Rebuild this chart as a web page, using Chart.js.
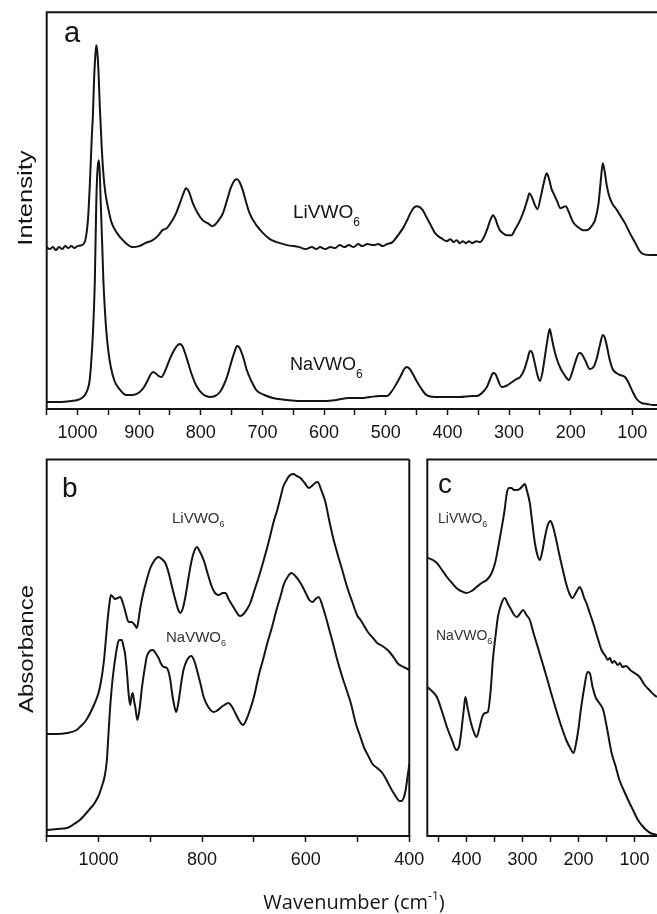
<!DOCTYPE html>
<html>
<head>
<meta charset="utf-8">
<title>LiVWO6 / NaVWO6 spectra</title>
<script src="https://cdn.jsdelivr.net/npm/chart.js@4.4.0/dist/chart.umd.min.js"></script>
<style>
    html, body { margin: 0; padding: 0; background: #fff; }
    body { width: 657px; height: 914px; position: relative; overflow: hidden; }
    canvas { position: absolute; }
    #chartA { left: 0; top: 0; }
    #chartB { left: 0; top: 440px; }
    #chartC { left: 400px; top: 440px; }
</style>
</head>
<body>
<canvas id="chartA" width="657" height="455"></canvas>
<canvas id="chartB" width="470" height="474"></canvas>
<canvas id="chartC" width="257" height="474"></canvas>
<script>
/* -------------------------------------------------
    DATA:
    Wavenumbers (cm-1) and intensities (arbitrary units)
    one x and one y list per curve.
------------------------------------------------- */

// Panel a - Raman
const ramanLiX = [
    1050, 1045, 1040, 1035, 1030, 1025, 1020, 1015, 1010, 1005, 1000, 993,
    987, 983, 980, 977, 975, 973, 971, 969.5, 968, 966, 964, 961, 958, 955, 950, 945, 937, 925, 911,
    900, 890, 878, 870, 862, 855, 846, 840, 834, 828, 824, 819, 813, 805, 797, 789, 781, 772, 764, 757,
    751, 745, 741, 737, 732, 727, 721, 710, 699, 688, 677, 660,
    640, 630, 620, 612, 607, 598, 590, 582, 575, 567, 560, 552, 545, 538, 530, 520, 512, 505, 498,
    489, 480, 472, 466, 460, 455, 450, 445, 440, 434, 427, 420, 410,
    401, 395, 390, 385, 380, 375, 370, 365, 360, 353, 347,
    340, 336, 331, 326, 322, 318, 315, 310, 304, 296, 290, 282,
    275, 270, 267, 263, 258, 254, 248, 243, 239, 235, 231, 228, 222, 217, 212, 208, 203, 196, 188, 180,
    174, 166, 160, 155, 151, 148, 145, 141, 137, 132, 126, 120, 112, 104, 95, 88, 82, 70, 60
];
const ramanLiY = [
    162, 160, 162, 159, 162, 160, 163, 161, 163, 161, 163, 164,
    170, 190, 225, 270, 295, 332, 355, 364, 358, 338, 305, 265, 235, 217, 200, 187, 177, 168, 162,
    163, 166, 169, 173, 179, 181, 189, 196, 206, 216, 221, 217, 206, 196, 189, 186, 183, 188, 196, 210,
    222, 229, 230, 227, 219, 208, 196, 184, 176, 170, 167, 164,
    162, 160, 162, 160, 162, 160, 162, 161, 164, 162, 164, 162, 165, 163, 165, 164, 165, 163, 165,
    167, 174, 181, 188, 196, 201, 203, 202, 199, 192, 184, 176, 171,
    168, 170, 167, 169, 166, 168, 166, 168, 166, 168, 167,
    173, 179, 188, 194, 190, 183, 179, 176, 174, 174, 180, 189,
    200, 210, 216, 212, 204, 200, 214, 228, 236, 230, 220, 216, 208, 201, 202, 203, 197, 187, 182, 179,
    179, 183, 190, 205, 230, 246, 238, 222, 212, 205, 200, 194, 186, 176, 166, 158, 155, 154, 154
];
const ramanNaX = [
    1050, 1030, 1010, 1000, 993, 988, 984, 980.5, 978, 975,
    972, 969.5, 967.5, 965.5, 964, 962.5, 960, 958, 955.5, 953,
    950, 946, 940, 932, 921, 910, 899, 892, 886, 881,
    877, 872, 868, 864, 858, 851, 845, 839, 834, 830,
    825, 820, 815, 807, 797, 786, 777, 769, 762, 756,
    751, 746, 741, 737, 733, 729, 726, 718, 710, 697,
    683, 660, 640, 620, 600, 580, 560, 540, 526, 510,
    498, 490, 482, 475, 470, 466, 461, 456, 450, 442,
    434, 420, 401, 380, 360, 352, 344, 336, 330, 326,
    322, 318, 312, 305, 295, 288, 282, 275, 270, 266,
    263, 258, 254, 250, 246, 242, 238, 234, 231, 227,
    222, 216, 210, 203, 197, 192, 186, 182, 176, 169,
    163, 158, 153, 148, 145, 141, 137, 132, 126, 120,
    112, 106, 100, 93, 85, 76, 66, 60
];
const ramanNaY = [
    7, 7, 8, 9, 11, 14, 19, 28, 45, 76,
    126, 209, 240, 249, 238, 209, 165, 128, 98, 76,
    58, 42, 28, 20, 14, 14, 17, 22, 29, 35,
    37, 35, 33, 32, 38, 49, 57, 63, 65, 63,
    55, 45, 35, 23, 15, 12, 13, 17, 25, 35,
    46, 56, 63, 61, 55, 47, 40, 28, 19, 14,
    11, 9, 8, 8, 8, 9, 11, 11, 12, 13,
    13, 18, 26, 34, 40, 42, 40, 35, 28, 20,
    14, 12, 12, 12, 13, 13, 16, 22, 31, 36,
    35, 29, 22, 23, 27, 30, 32, 40, 50, 58,
    57, 45, 34, 28, 36, 52, 68, 80, 72, 60,
    49, 40, 34, 29, 38, 48, 56, 55, 48, 40,
    42, 50, 63, 74, 72, 62, 50, 40, 36, 34,
    32, 26, 18, 10, 6, 5, 4, 4
];

// Panel b - mid infrared
const irLiX = [
    1100, 1080, 1061, 1042, 1036, 1025, 1016, 1008, 1000, 995,
    990, 986, 983, 979, 976, 972, 968, 963, 958, 953,
    949, 945, 942, 936, 930, 926, 923, 920, 914, 907,
    900, 894, 888, 884, 878, 871, 864, 858, 850, 846,
    842, 837, 832, 826, 820, 815, 810, 805, 797, 789,
    781, 775, 768, 760, 755, 749, 742, 735, 730, 726,
    720, 713, 707, 700, 690, 681, 670, 662, 655, 648,
    643, 639, 632, 624, 617, 610, 602, 594, 588, 582,
    577, 570, 562, 554, 546, 538, 530, 520, 510, 500,
    494, 480, 470, 462, 452, 442, 435, 428, 423, 415,
    407, 400
];
const irLiY = [
    102, 102, 103, 106, 109, 115, 123, 132, 143, 155,
    173, 195, 213, 232, 241, 239, 237, 238, 239, 233,
    226, 218, 214, 214, 211, 208, 215, 226, 242, 256,
    268, 274, 278, 279, 277, 273, 262, 249, 233, 226,
    223, 228, 240, 259, 276, 285, 289, 285, 276, 262,
    249, 243, 241, 243, 243, 237, 231, 225, 221, 220,
    222, 227, 233, 244, 260, 276, 297, 314, 326, 340,
    350, 354, 360, 362, 360, 358, 353, 348, 350, 353,
    354, 346, 334, 314, 296, 281, 267, 249, 234, 220,
    216, 204, 198, 193, 190, 186, 182, 177, 173, 170,
    168, 166
];
const irNaX = [
    1100, 1080, 1061, 1050, 1036, 1025, 1015, 1010, 1000, 994,
    988, 984, 981, 978, 975, 971, 967, 963, 960, 955,
    952, 949, 945, 942, 939, 936, 934, 931, 929, 925,
    920, 916, 910, 907, 901, 895, 890, 884, 879, 874,
    868, 862, 858, 854, 850, 845, 840, 836, 829, 821,
    815, 810, 803, 797, 788, 778, 772, 765, 757, 749,
    742, 736, 728, 721, 714, 707, 700, 690, 682, 674,
    665, 657, 649, 642, 635, 628, 620, 610, 600, 593,
    587, 581, 575, 567, 558, 548, 539, 530, 521, 513,
    503, 495, 487, 479, 471, 462, 452, 444, 436, 429,
    423, 419, 415, 411, 407, 404, 401, 400
];
const irNaY = [
    6, 7, 8, 11, 16, 22, 28, 31, 40, 49,
    60, 75, 100, 125, 145, 165, 180, 192, 196, 196,
    190, 183, 163, 143, 131, 140, 143, 134, 129, 116,
    130, 149, 170, 179, 185, 186, 183, 178, 172, 169,
    168, 158, 143, 131, 124, 136, 154, 166, 176, 180,
    175, 166, 152, 139, 129, 124, 125, 128, 131, 133,
    129, 123, 115, 111, 117, 127, 139, 162, 177, 193,
    209, 225, 239, 252, 259, 263, 260, 253, 243, 236,
    234, 237, 239, 229, 213, 194, 176, 160, 146, 133,
    112, 100, 88, 80, 72, 68, 63, 56, 48, 42,
    37, 35, 35, 38, 46, 57, 68, 72
];

// Panel c - far infrared
const farLiX = [
    470, 468, 460, 453, 445, 435, 426, 418, 410, 400, 391, 382, 373, 364, 356, 349, 343, 337, 332, 328,
    324, 320, 315, 311, 305, 300, 296, 292, 287, 283, 278, 273, 269, 265, 260, 255, 250, 246, 241, 235,
    228, 222, 216, 211, 205, 201, 198, 194, 190, 186, 180, 174, 166, 159,
    152, 148, 144, 140, 136, 130, 126, 122, 115, 108, 100, 91, 82, 72, 65, 60
];
const farLiY = [
    279, 278, 276, 273, 267, 259, 253, 248, 245, 243, 245, 249, 253, 256, 262, 273, 290, 309, 326, 343,
    348, 348, 346, 346, 347, 350, 352, 345, 333, 315, 293, 280, 276, 284, 299, 311, 315, 310, 299, 283,
    266, 252, 242, 238, 243, 247, 249, 245, 238, 233, 223, 213, 198, 186,
    180, 176, 178, 173, 175, 171, 173, 169, 170, 166, 163, 159, 151, 145, 141, 139
];
const farNaX = [
    470, 462, 453, 444, 435, 426, 418, 413, 409, 405,
    402, 398, 392, 387, 382, 377, 372, 367, 362, 357,
    353, 348, 344, 338, 332, 326, 320, 315, 310, 305,
    299, 293, 287, 281, 275, 266, 257, 249, 240, 231,
    222, 215, 209, 204, 200, 196, 190, 184, 180, 175,
    169, 163, 156, 150, 141, 134, 127, 118, 109, 102,
    94, 86, 79, 72, 66, 60
];
const farNaY = [
    149, 145, 139, 125, 109, 96, 86, 90, 106, 126,
    139, 128, 113, 104, 99, 108, 119, 123, 124, 145,
    176, 201, 219, 232, 238, 232, 226, 221, 219, 222,
    226, 221, 216, 204, 193, 176, 159, 143, 126, 110,
    96, 88, 83, 94, 108, 126, 148, 164, 163, 149,
    138, 133, 126, 110, 83, 70, 56, 44, 33, 25,
    16, 10, 6, 3, 2, 1
];

// Tick positions and which of them carry a label
const ticksA = [1050, 1000, 950, 900, 850, 800, 750, 700, 650, 600, 550, 500, 450, 400, 350, 300, 250, 200, 150, 100];
const labelsA = [1000, 900, 800, 700, 600, 500, 400, 300, 200, 100];
const ticksB = [1100, 1000, 900, 800, 700, 600, 500, 400];
const labelsB = [1000, 800, 600, 400];
const ticksC = [450, 400, 350, 300, 250, 200, 150, 100];
const labelsC = [400, 300, 200, 100];

/* -------------------------------------------------
    SHARED LOOK
------------------------------------------------- */
const INK = '#141414';
const SANS = "'Liberation Sans', Arial, sans-serif";
Chart.defaults.font.family = SANS;
Chart.defaults.color = INK;

// draw a run of text pieces (for sub/superscripts) starting at x
function drawRich(ctx, parts, x, y) {
    parts.forEach(p => {
        ctx.font = (p.size) + 'px ' + (p.family || SANS);
        ctx.fillStyle = p.color || INK;
        ctx.fillText(p.t, x, y + (p.dy || 0));
        x += ctx.measureText(p.t).width;
    });
}

function richWidth(ctx, parts) {
    let w = 0;
    parts.forEach(p => {
        ctx.font = (p.size) + 'px ' + (p.family || SANS);
        w += ctx.measureText(p.t).width;
    });
    return w;
}

/* -------------------------------------------------
    PANEL FACTORY:
    One Chart.js line chart per panel, linear reversed x axis.
------------------------------------------------- */
function makePanel(canvasId, cfg) {
    const panelPlugin = {
        id: 'panelDecor',
        afterDatasetsDraw(chart) {
            const { ctx, chartArea: a } = chart;
            ctx.save();
            // frame
            ctx.strokeStyle = INK;
            ctx.lineWidth = 2;
            ctx.beginPath();
            ctx.moveTo(a.right, a.top);
            ctx.lineTo(a.left, a.top);
            ctx.lineTo(a.left, a.bottom);
            ctx.lineTo(a.right, a.bottom);
            if (cfg.frameRight) ctx.lineTo(a.right, a.top);
            ctx.stroke();

            // labels
            ctx.textBaseline = 'alphabetic';
            ctx.textAlign = 'left';
            cfg.texts.forEach(t => {
                if (t.center) {
                    const w = richWidth(ctx, t.parts);
                    drawRich(ctx, t.parts, t.x - w / 2, t.y);
                } else {
                    drawRich(ctx, t.parts, t.x, t.y);
                }
            });

            // rotated y axis title
            if (cfg.yTitle) {
                const yt = cfg.yTitle;
                ctx.translate(yt.x, yt.y);
                ctx.rotate(-Math.PI / 2);
                ctx.scale(yt.stretch, 1);
                ctx.font = yt.size + 'px ' + SANS;
                ctx.fillStyle = INK;
                ctx.textAlign = 'center';
                ctx.fillText(yt.text, 0, 0);
            }
            ctx.restore();
        }
    };

    return new Chart(document.getElementById(canvasId), {
        type: 'line',
        data: {
            datasets: cfg.series.map(s => ({
                label: s.label,
                data: s.x.map((x, i) => ({ x: x, y: s.y[i] })),
                borderColor: INK,
                borderWidth: 2,
                pointRadius: 0,
                fill: false,
                cubicInterpolationMode: 'monotone'
            }))
        },
        options: {
            responsive: false,
            animation: false,
            devicePixelRatio: 1,
            layout: { padding: cfg.padding },
            plugins: {
                legend: { display: false },
                tooltip: { enabled: false }
            },
            scales: {
                x: {
                    type: 'linear',
                    reverse: true,
                    min: cfg.xMin,
                    max: cfg.xMax,
                    afterBuildTicks: axis => { axis.ticks = cfg.ticks.map(v => ({ value: v })); },
                    afterFit: axis => { axis.height = cfg.xHeight; },
                    ticks: {
                        autoSkip: false,
                        maxRotation: 0,
                        padding: cfg.tickPad,
                        color: INK,
                        font: { size: 18 },
                        callback: v => cfg.labels.includes(v) ? String(v) : ''
                    },
                    grid: {
                        drawOnChartArea: false,
                        drawTicks: true,
                        tickLength: 6,
                        tickWidth: 1.5,
                        tickColor: INK
                    },
                    border: { display: false }
                },
                y: { display: false, min: 0, max: cfg.yMax }
            }
        },
        plugins: [panelPlugin]
    });
}

/* -------------------------------------------------
    BUILD THE THREE PANELS
------------------------------------------------- */
document.addEventListener('DOMContentLoaded', () => {

    // a: Raman, full width
    makePanel('chartA', {
        series: [
            { label: 'LiVWO6', x: ramanLiX, y: ramanLiY },
            { label: 'NaVWO6', x: ramanNaX, y: ramanNaY }
        ],
        xMin: 60, xMax: 1050, yMax: 397,
        ticks: ticksA, labels: labelsA,
        padding: { left: 46.7, top: 12.3, right: 0, bottom: 0 },
        xHeight: 46, tickPad: 7, frameRight: false,
        texts: [
            { x: 64, y: 42, parts: [{ t: 'a', size: 29 }] },
            { x: 293, y: 218, parts: [{ t: 'LiVWO', size: 19 }, { t: '6', size: 12, dy: 8 }] },
            { x: 290, y: 370, parts: [{ t: 'NaVWO', size: 18 }, { t: '6', size: 12, dy: 8 }] }
        ],
        yTitle: { text: 'Intensity', x: 32, y: 198, size: 20, stretch: 1.28 }
    });

    // b: mid-IR absorbance
    makePanel('chartB', {
        series: [
            { label: 'LiVWO6', x: irLiX, y: irLiY },
            { label: 'NaVWO6', x: irNaX, y: irNaY }
        ],
        xMin: 400, xMax: 1100, yMax: 376.5,
        ticks: ticksB, labels: labelsB,
        padding: { left: 46.7, top: 19.5, right: 60.7, bottom: 0 },
        xHeight: 78, tickPad: 7, frameRight: true,
        texts: [
            { x: 62, y: 57, parts: [{ t: 'b', size: 28 }] },
            { x: 172, y: 83, parts: [{ t: 'LiVWO', size: 15, color: '#333' }, { t: '6', size: 9, dy: 4, color: '#333' }] },
            { x: 166, y: 202, parts: [{ t: 'NaVWO', size: 15, color: '#333' }, { t: '6', size: 9, dy: 4, color: '#333' }] },
            {
                x: 354, y: 469, center: true,
                parts: [
                    { t: 'Wavenumber (cm', size: 20, family: "'Open Sans', sans-serif" },
                    { t: '-1', size: 12, dy: -9, family: "'Open Sans', sans-serif" },
                    { t: ')', size: 20, family: "'Open Sans', sans-serif" }
                ]
            }
        ],
        yTitle: { text: 'Absorbance', x: 33, y: 209, size: 20, stretch: 1.2 }
    });

    // c: far-IR absorbance
    makePanel('chartC', {
        series: [
            { label: 'LiVWO6', x: farLiX, y: farLiY },
            { label: 'NaVWO6', x: farNaX, y: farNaY }
        ],
        xMin: 60, xMax: 470, yMax: 376.5,
        ticks: ticksC, labels: labelsC,
        padding: { left: 27.3, top: 19.5, right: 0, bottom: 0 },
        xHeight: 78, tickPad: 7, frameRight: false,
        texts: [
            { x: 38, y: 53, parts: [{ t: 'c', size: 28 }] },
            { x: 38, y: 83, parts: [{ t: 'LiVWO', size: 14, color: '#333' }, { t: '6', size: 9, dy: 4, color: '#333' }] },
            { x: 36, y: 200, parts: [{ t: 'NaVWO', size: 14, color: '#333' }, { t: '6', size: 9, dy: 4, color: '#333' }] }
        ]
    });
});
</script>
</body>
</html>
